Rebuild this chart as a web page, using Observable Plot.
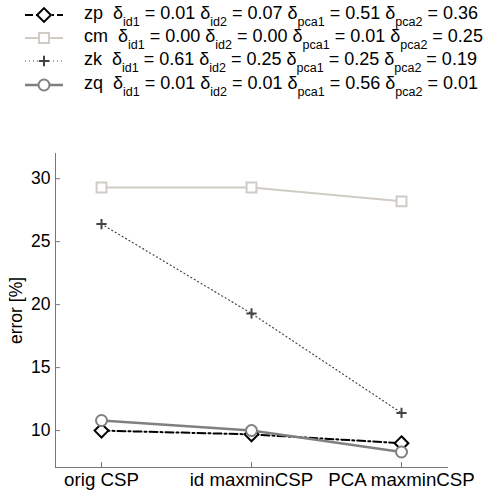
<!DOCTYPE html>
<html><head><meta charset="utf-8">
<script src="https://cdn.jsdelivr.net/npm/d3@7"></script>
<script src="https://cdn.jsdelivr.net/npm/@observablehq/plot@0.6"></script>
<style>
body{margin:0;background:#fff;font-family:"Liberation Sans",Arial,Helvetica,sans-serif;}
#wrap{position:relative;width:487px;height:495px;overflow:hidden;}
#legend{position:absolute;left:0;top:0;width:487px;height:100px;}
#chart{position:absolute;left:0;top:100px;}
.row{position:absolute;left:0;height:23px;width:487px;}
.row svg{position:absolute;left:22px;top:0;}
.row .txt{position:absolute;left:84px;top:-1px;font-size:18px;line-height:23px;white-space:pre;color:#000;}
.row sub{font-size:12.5px;vertical-align:-7px;line-height:0;}
</style></head>
<body><div id="wrap"><div id="legend"></div><div id="chart"></div></div>
<script>
const methods = ["orig CSP", "id maxminCSP", "PCA maxminCSP"];
const seriesNames = ["zp", "cm", "zk", "zq"];
const zp = [10.0, 9.7, 9.0];
const cm = [29.3, 29.3, 28.2];
const zk = [26.4, 19.3, 11.4];
const zq = [10.8, 10.0, 8.3];
const deltaId1 = ["0.01", "0.00", "0.61", "0.01"];
const deltaId2 = ["0.07", "0.00", "0.25", "0.01"];
const deltaPca1 = ["0.51", "0.01", "0.25", "0.56"];
const deltaPca2 = ["0.36", "0.25", "0.19", "0.01"];
const yTicks = [10, 15, 20, 25, 30];

const styles = {
  zp: {stroke: "#000000", dash: "8,3,2,3", width: 2, symbol: "diamond2", r: 6.2},
  cm: {stroke: "#d0ccc5", dash: null, width: 2, symbol: "square2", r: 6.3},
  zk: {stroke: "#444444", dash: "1,3", width: 1.2, symbol: "plus", r: 3.4},
  zq: {stroke: "#808080", dash: null, width: 2.5, symbol: "circle", r: 5.5}
};
const valuesBy = {zp, cm, zk, zq};
const data = seriesNames.flatMap(s => methods.map((m, i) => ({series: s, method: m, value: valuesBy[s][i]})));

// Legend
const legend = d3.select("#legend");
seriesNames.forEach((s, k) => {
  const st = styles[s];
  const row = legend.append("div").attr("class", "row").style("top", (3 + k * 23.2) + "px");
  const svg = row.append("svg").attr("width", 44).attr("height", 23);
  svg.append("line").attr("x1", 3).attr("x2", 41).attr("y1", 12).attr("y2", 12)
    .attr("stroke", st.stroke).attr("stroke-width", st.width).attr("stroke-dasharray", st.dash);
  const sym = {diamond2: d3.symbolDiamond2, square2: d3.symbolSquare2, plus: d3.symbolPlus, circle: d3.symbolCircle}[st.symbol];
  svg.append("path").attr("transform", "translate(22,12)")
    .attr("d", d3.symbol(sym, Math.PI * st.r * st.r)())
    .attr("fill", st.symbol === "plus" ? "none" : "white").attr("stroke", st.stroke)
    .attr("stroke-width", 2);
  row.append("div").attr("class", "txt").html(
    `${s}  δ<sub>id1</sub> = ${deltaId1[k]} δ<sub>id2</sub> = ${deltaId2[k]} δ<sub>pca1</sub> = ${deltaPca1[k]} δ<sub>pca2</sub> = ${deltaPca2[k]}`);
});

const marks = [];
seriesNames.forEach(s => {
  const st = styles[s];
  const d = data.filter(r => r.series === s);
  marks.push(Plot.line(d, {x: "method", y: "value", stroke: st.stroke, strokeWidth: st.width, strokeDasharray: st.dash || undefined}));
});
seriesNames.forEach(s => {
  const st = styles[s];
  const d = data.filter(r => r.series === s);
  marks.push(Plot.dot(d, {x: "method", y: "value", symbol: () => st.symbol, r: st.r, stroke: st.stroke, strokeWidth: 2, fill: st.symbol === "plus" ? "none" : "white"}));
});

const chart = Plot.plot({
  width: 487, height: 395,
  marginLeft: 55, marginRight: 40, marginTop: 53, marginBottom: 28,
  style: {fontFamily: "'Liberation Sans', Arial, Helvetica, sans-serif", fontSize: "18.7px", color: "#000", background: "white"},
  x: {type: "point", domain: methods, padding: 0.3},
  y: {domain: [7.07, 32]},
  symbol: {type: "identity"},
  marks: [
    Plot.frame({anchor: "left", stroke: "#777"}),
    Plot.frame({anchor: "bottom", stroke: "#777"}),
    Plot.axisY({ticks: yTicks, tickSize: -5, tickPadding: 10, stroke: "#777", fill: "#000", label: "error [%]", labelAnchor: "center", labelArrow: false, labelOffset: 46, fontSize: "17.5px"}),
    Plot.axisX({tickSize: -5, tickPadding: 10, stroke: "#777", fill: "#000", label: null}),
    ...marks
  ]
});
document.getElementById("chart").appendChild(chart);
</script></body></html>
